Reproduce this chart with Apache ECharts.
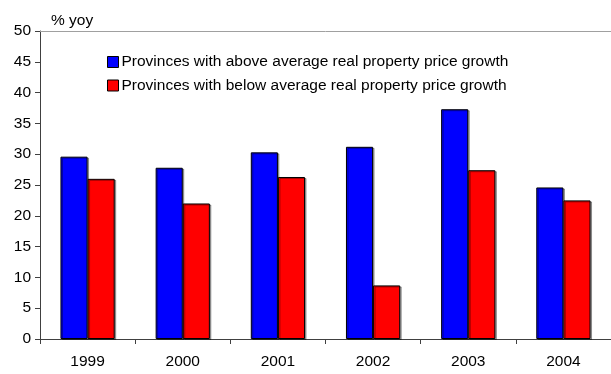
<!DOCTYPE html>
<html>
<head>
<meta charset="utf-8">
<script src="https://cdn.jsdelivr.net/npm/echarts@6/dist/echarts.min.js"></script>
<style>
  html, body { margin: 0; padding: 0; background: #fff; }
  #chart { width: 611px; height: 374px; }
</style>
</head>
<body>
<div id="chart"></div>
<script>
// Year-on-year real property price growth by province group
const years = ['1999', '2000', '2001', '2002', '2003', '2004'];
const aboveAvg = [29.6, 27.8, 30.3, 31.2, 37.3, 24.6];
const belowAvg = [26.0, 22.0, 26.3, 8.7, 27.4, 22.5];
const seriesNames = [
  'Provinces with above average real property price growth',
  'Provinces with below average real property price growth'
];
const yTicks = { min: 0, max: 50, interval: 5 };

const font = 'Arial, "Liberation Sans", sans-serif';
const fs = 15.5;
const barStyle = (color) => ({
  color: color,
  borderColor: '#000',
  borderWidth: 1,
  shadowColor: 'rgba(0,0,0,0.35)',
  shadowOffsetX: 1.5,
  shadowOffsetY: 1,
  shadowBlur: 0
});

const chart = echarts.init(document.getElementById('chart'), null, { renderer: 'canvas' });
chart.setOption({
  animation: false,
  backgroundColor: '#fff',
  textStyle: { fontFamily: font },
  title: {
    text: '% yoy',
    left: 46,
    top: 8,
    textStyle: { fontFamily: font, fontSize: fs, fontWeight: 'normal', color: '#000' }
  },
  legend: {
    orient: 'vertical',
    left: 102,
    top: 49,
    itemWidth: 11,
    itemHeight: 11,
    itemGap: 7.5,
    icon: 'rect',
    textStyle: { fontFamily: font, fontSize: fs, color: '#000', padding: [0, 0, 0, -2] },
    data: seriesNames.map(n => ({ name: n, itemStyle: { borderColor: '#000', borderWidth: 1 } }))
  },
  grid: { left: 40, top: 31, right: -5, bottom: 35, containLabel: false },
  xAxis: [
    {
      type: 'category',
      data: years,
      axisLine: { lineStyle: { color: '#404040', width: 1 } },
      axisTick: { show: true, alignWithLabel: false, length: 5, inside: false, lineStyle: { color: '#404040' } },
      axisLabel: { fontFamily: font, fontSize: fs, color: '#000', margin: 15 }
    },
    {
      type: 'category',
      data: years,
      position: 'top',
      axisLine: { lineStyle: { color: '#a0a0a0', width: 1 } },
      axisTick: { show: false },
      axisLabel: { show: false }
    }
  ],
  yAxis: {
    type: 'value',
    min: yTicks.min,
    max: yTicks.max,
    interval: yTicks.interval,
    axisLine: { show: true, lineStyle: { color: '#404040', width: 1 } },
    axisTick: { show: true, length: 5, lineStyle: { color: '#404040' } },
    splitLine: { show: false },
    axisLabel: { fontFamily: font, fontSize: fs, color: '#000', margin: 9 }
  },
  series: [
    {
      name: seriesNames[0],
      type: 'bar',
      data: aboveAvg,
      barGap: '0%',
      barCategoryGap: '43%',
      itemStyle: barStyle('#0000ff')
    },
    {
      name: seriesNames[1],
      type: 'bar',
      data: belowAvg,
      barGap: '0%',
      barCategoryGap: '43%',
      itemStyle: barStyle('#ff0000')
    }
  ]
});
</script>
</body>
</html>
